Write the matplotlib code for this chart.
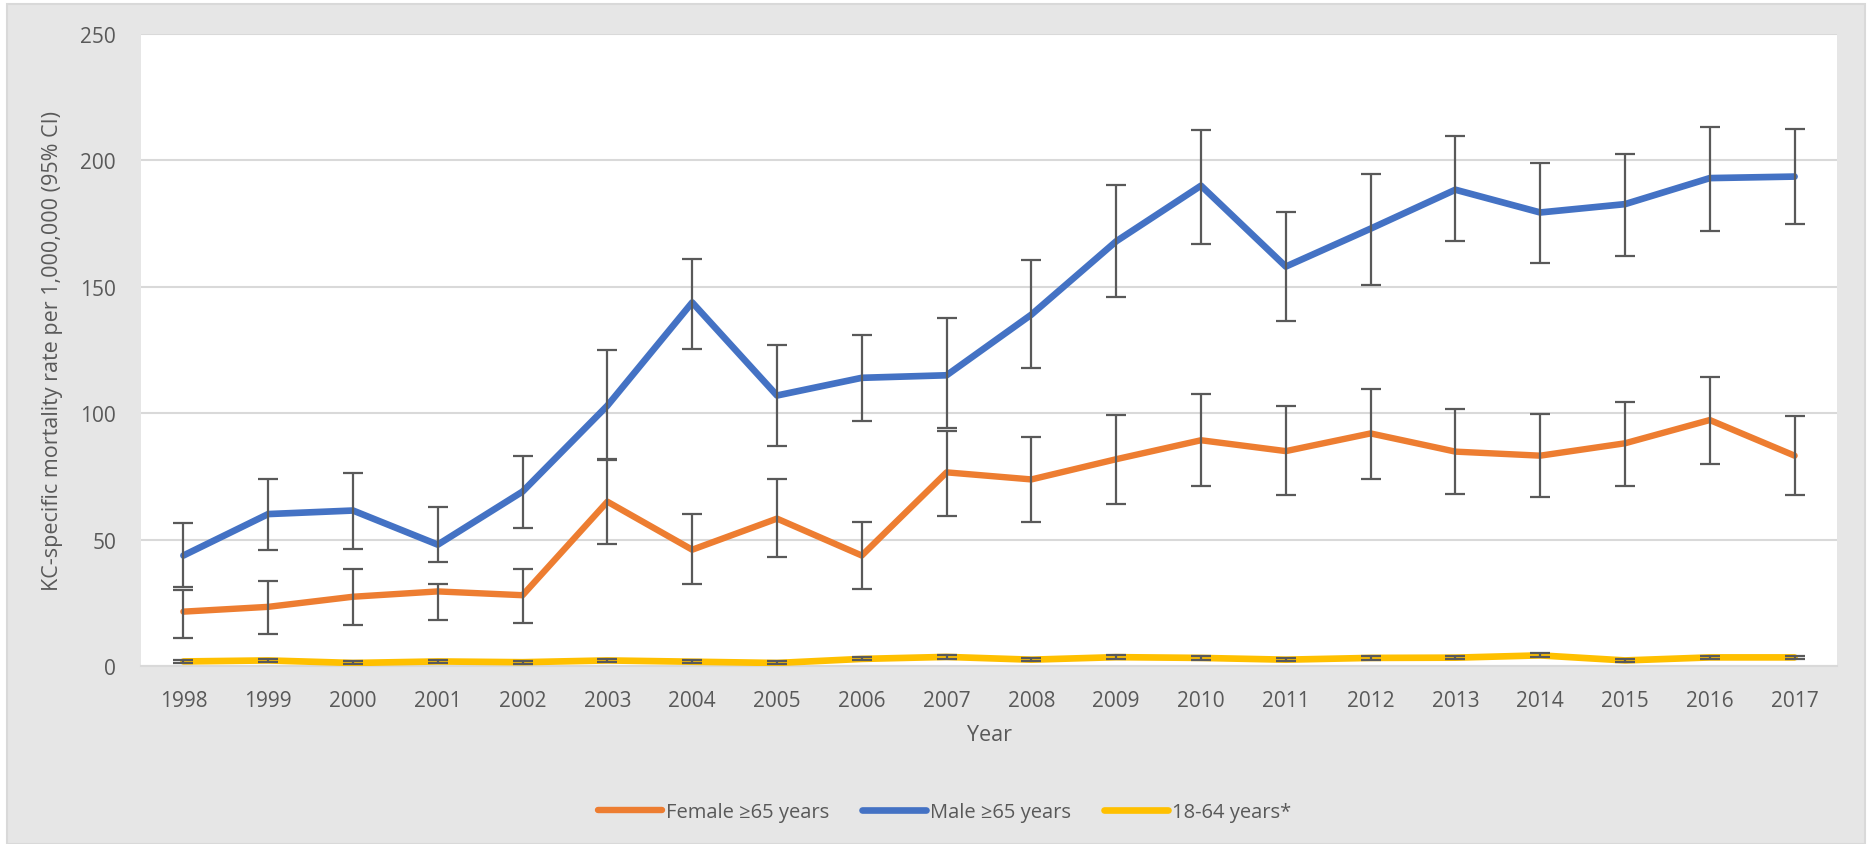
import matplotlib.pyplot as plt
from matplotlib.patches import Rectangle
import numpy as np

years = [str(y) for y in range(1998, 2018)]

female = [21.5, 23.4, 27.4, 29.5, 28.0, 65.0, 46.0, 58.3, 43.7, 76.6,
          73.8, 81.8, 89.3, 85.0, 92.0, 84.8, 83.2, 88.1, 97.3, 83.2]
female_lo = [11.1, 12.7, 16.3, 18.3, 17.0, 48.4, 32.4, 43.0, 30.5, 59.2,
             56.9, 64.0, 71.4, 67.7, 73.8, 68.0, 66.8, 71.3, 79.9, 67.6]
female_hi = [30.0, 33.7, 38.5, 32.4, 38.5, 81.5, 60.0, 74.0, 57.0, 93.0,
             90.7, 99.2, 107.6, 103.0, 109.5, 101.7, 99.7, 104.6, 114.3, 98.9]

male = [43.7, 60.1, 61.5, 48.0, 69.0, 103.0, 143.8, 107.0, 114.0, 115.0,
        139.0, 168.0, 190.0, 158.0, 173.0, 188.4, 179.4, 182.7, 193.0, 193.6]
male_lo = [31.3, 45.8, 46.4, 41.0, 54.5, 82.0, 125.5, 87.0, 97.0, 94.0,
           118.0, 146.0, 167.0, 136.3, 150.9, 168.3, 159.4, 162.3, 172.1, 174.9]
male_hi = [56.7, 73.8, 76.2, 63.0, 83.0, 125.0, 161.0, 127.0, 131.0, 137.7,
           160.7, 190.3, 212.0, 179.5, 194.8, 209.5, 199.0, 202.4, 213.4, 212.3]

young = [1.8, 2.2, 1.2, 1.8, 1.5, 2.2, 1.7, 1.2, 2.8, 3.6,
         2.5, 3.5, 3.2, 2.5, 3.2, 3.3, 4.2, 2.2, 3.4, 3.4]
young_lo = [1.2, 1.5, 0.6, 1.2, 0.9, 1.6, 1.1, 0.6, 2.2, 2.9,
            1.8, 2.8, 2.5, 1.8, 2.5, 2.6, 3.4, 1.5, 2.7, 2.7]
young_hi = [2.4, 2.9, 1.8, 2.4, 2.1, 2.8, 2.3, 1.8, 3.4, 4.3,
            3.2, 4.2, 3.9, 3.2, 3.9, 4.0, 5.0, 2.9, 4.1, 4.1]

text_col = "#595959"
plt.rcParams['font.family'] = ['Open Sans', 'DejaVu Sans']

fig = plt.figure(figsize=(18.67, 8.45), dpi=100)
fig.patch.set_facecolor("white")
fig.patches.append(Rectangle((7 / 1867, 0), 1 - 9 / 1867, 1 - 5 / 845,
                             transform=fig.transFigure, facecolor="#E6E6E6",
                             edgecolor="#D9D9D9", linewidth=1.5, zorder=-10))

ax = fig.add_axes([141 / 1867, 1 - 667 / 845, (1837 - 141) / 1867, (667 - 35) / 845])
ax.set_facecolor("white")

x = np.arange(len(years))
series = [
    ("Female \u226565 years", female, female_lo, female_hi, "#ED7D31", 4.6),
    ("Male \u226565 years", male, male_lo, male_hi, "#4472C4", 4.8),
    ("18-64 years*", young, young_lo, young_hi, "#FFC000", 4.8),
]
for label, vals, lo, hi, col, lw in series:
    vals = np.array(vals)
    err = [vals - np.array(lo), np.array(hi) - vals]
    ax.plot(x, vals, color=col, linewidth=lw, label=label, zorder=3,
            solid_joinstyle="round", solid_capstyle="round")
    ax.errorbar(x, vals, yerr=err, fmt="none", ecolor=text_col, elinewidth=1.6,
                capsize=7, capthick=1.6, zorder=4)

ax.set_xlim(-0.5, len(years) - 0.5)
ax.set_ylim(0, 250)
ax.set_yticks(range(0, 251, 50))
ax.set_xticks(x)
ax.set_xticklabels(years)
ax.grid(axis="y", color="#D9D9D9", linewidth=1.5, zorder=0)
ax.set_axisbelow(True)
for s in ["top", "right", "left"]:
    ax.spines[s].set_visible(False)
ax.spines["bottom"].set_color("#D9D9D9")
ax.spines["bottom"].set_linewidth(1.5)
ax.tick_params(axis="both", length=0, labelsize=15, labelcolor=text_col)
ax.tick_params(axis="x", pad=17)
ax.tick_params(axis="y", pad=18)

ax.set_xlabel("Year", fontsize=15.5, color=text_col, labelpad=10)
ax.set_ylabel("KC-specific mortality rate per 1,000,000 (95% CI)", fontsize=15.5,
              color=text_col, labelpad=12)

handles, labels = ax.get_legend_handles_labels()
fig.legend(handles, labels, loc="center", bbox_to_anchor=(0.506, 1 - 813 / 845),
           ncol=3, frameon=False, fontsize=14.5, labelcolor=text_col,
           handlelength=3.2, handletextpad=0.2, columnspacing=1.6)

plt.savefig("out.png", dpi=100, facecolor=fig.get_facecolor())
